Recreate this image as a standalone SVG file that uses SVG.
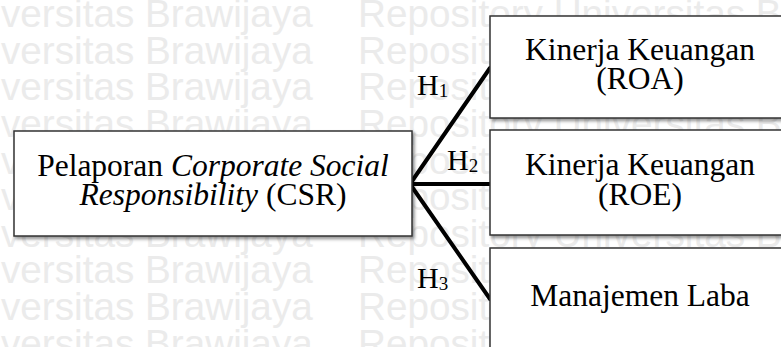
<svg xmlns="http://www.w3.org/2000/svg" width="781" height="347" viewBox="0 0 781 347">
<defs>
<style>
.wm{font-family:"Liberation Sans",Arial,sans-serif;font-size:38.7px;fill:#ebebeb;}
.box{fill:#fff;stroke:#333;stroke-width:1.5;filter:url(#sh);}
.t{font-family:"Liberation Serif","Times New Roman",serif;font-size:31.5px;fill:#000;text-anchor:middle;}
.h{font-family:"Liberation Serif","Times New Roman",serif;font-size:30px;fill:#000;}
.sub{font-size:19px;}
.con{stroke:#000;stroke-width:4;fill:none;stroke-linecap:round;}
</style>
<filter id="sh" x="-5%" y="-5%" width="115%" height="125%">
<feDropShadow dx="2" dy="2.5" stdDeviation="1.5" flood-color="#000" flood-opacity="0.4"/>
</filter>
</defs>
<rect width="781" height="347" fill="#fff"/>
<g id="watermark" class="wm">
<text x="1" y="27">versitas Brawijaya<tspan x="358">Repository Universitas Brawijaya</tspan></text>
<text x="1" y="64">versitas Brawijaya<tspan x="358">Repository Universitas Brawijaya</tspan></text>
<text x="1" y="100">versitas Brawijaya<tspan x="358">Repository Universitas Brawijaya</tspan></text>
<text x="1" y="137">versitas Brawijaya<tspan x="358">Repository Universitas Brawijaya</tspan></text>
<text x="1" y="174">versitas Brawijaya<tspan x="358">Repository Universitas Brawijaya</tspan></text>
<text x="1" y="210">versitas Brawijaya<tspan x="358">Repository Universitas Brawijaya</tspan></text>
<text x="1" y="247">versitas Brawijaya<tspan x="358">Repository Universitas Brawijaya</tspan></text>
<text x="1" y="283">versitas Brawijaya<tspan x="358">Repository Universitas Brawijaya</tspan></text>
<text x="1" y="320">versitas Brawijaya<tspan x="358">Repository Universitas Brawijaya</tspan></text>
<text x="1" y="357">versitas Brawijaya<tspan x="358">Repository Universitas Brawijaya</tspan></text>
</g>
<g id="connectors">
<path class="con" d="M410 184 L490 68"/>
<path class="con" d="M410 184 L490 184"/>
<path class="con" d="M410 184 L490 299"/>
<text class="h" x="417" y="95">H<tspan class="sub" dy="2">1</tspan></text>
<text class="h" x="447" y="170">H<tspan class="sub" dy="2">2</tspan></text>
<text class="h" x="417" y="288">H<tspan class="sub" dy="2">3</tspan></text>
</g>
<g id="csr">
<rect class="box" x="14" y="131" width="398" height="105"/>
<text class="t" x="213" y="176">Pelaporan <tspan font-style="italic">Corporate Social</tspan></text>
<text class="t" x="213" y="205"><tspan font-style="italic">Responsibility</tspan> (CSR)</text>
</g>
<g id="roa">
<rect class="box" x="490" y="16" width="310" height="102"/>
<text class="t" x="640" y="60">Kinerja Keuangan</text>
<text class="t" x="640" y="89">(ROA)</text>
</g>
<g id="roe">
<rect class="box" x="490" y="130" width="310" height="105"/>
<text class="t" x="640" y="175">Kinerja Keuangan</text>
<text class="t" x="640" y="205">(ROE)</text>
</g>
<g id="laba">
<rect class="box" x="490" y="248" width="310" height="130"/>
<text class="t" x="640" y="306">Manajemen Laba</text>
</g>
</svg>
